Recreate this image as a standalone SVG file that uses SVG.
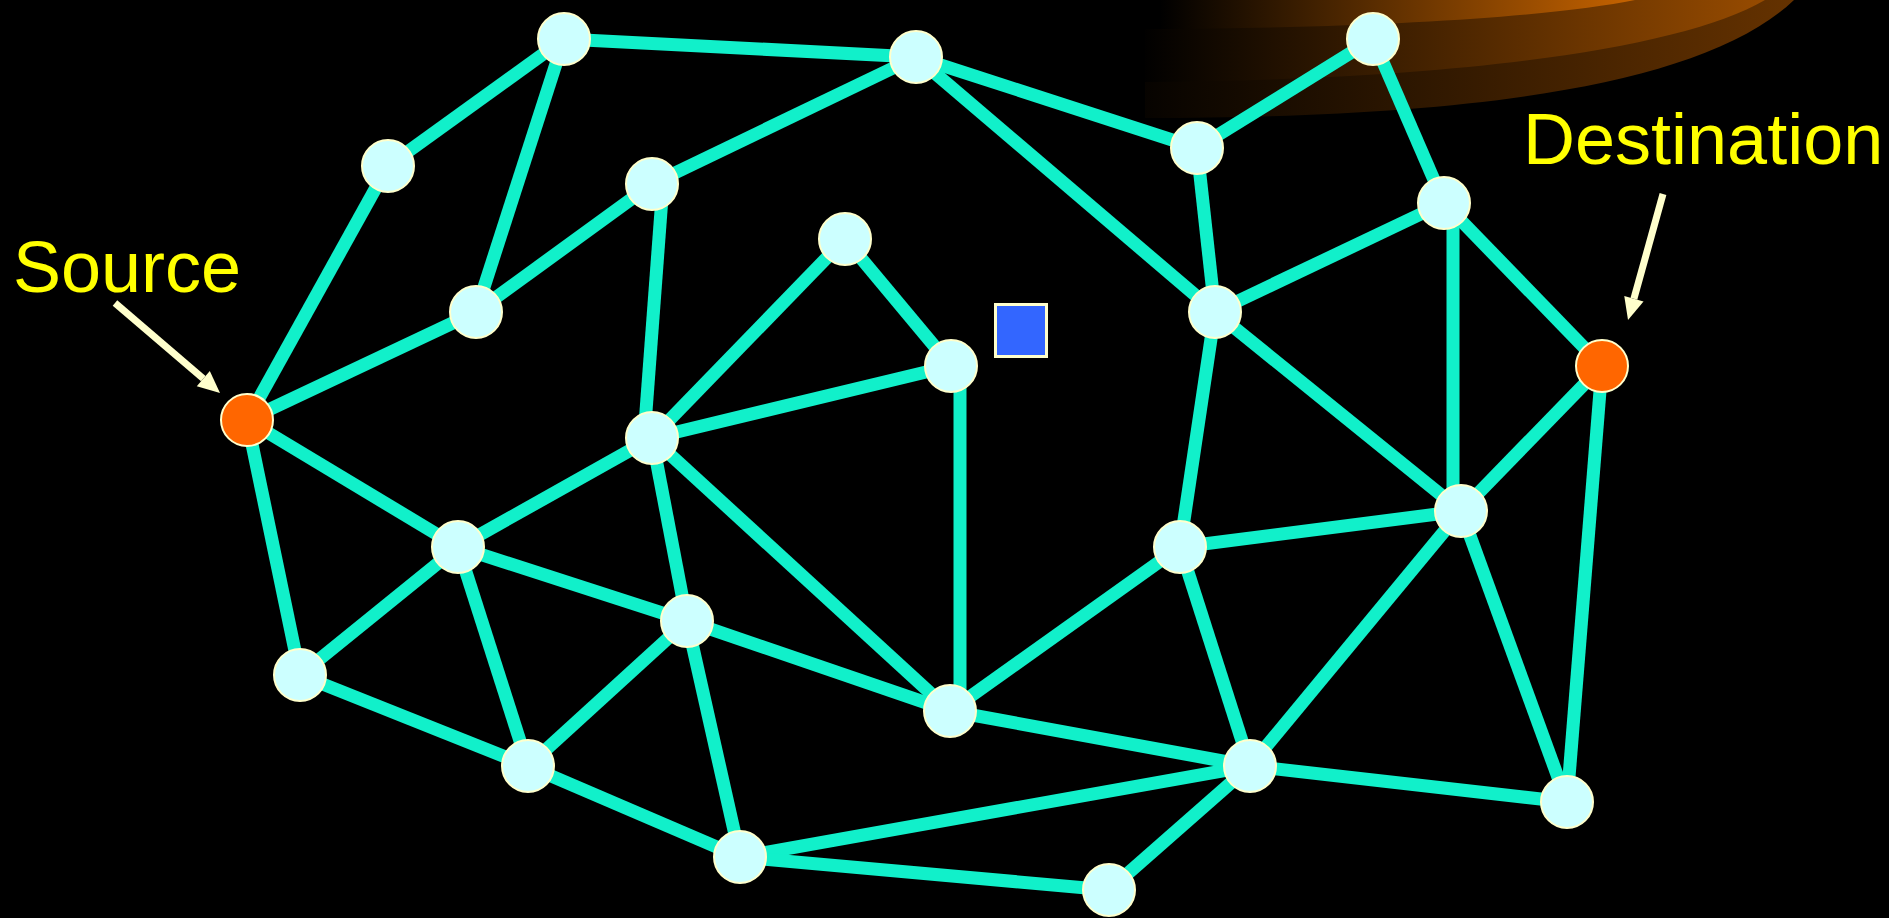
<svg xmlns="http://www.w3.org/2000/svg" width="1889" height="918" viewBox="0 0 1889 918">
<style>
.bg{fill:#000}
.e{stroke:#11F0CA;stroke-width:13;fill:none}
.n{fill:#CCFFFF;stroke:#FFFFCC;stroke-width:2}
.o{fill:#FF6600;stroke:#FFFFCC;stroke-width:2}
.lbl{font-family:"Liberation Sans",Arial,sans-serif;font-size:72px;fill:#FFFF00}
.arr{stroke:#FFFFCC;stroke-width:7;fill:none}
</style>
<defs>
<linearGradient id="gIn" gradientUnits="userSpaceOnUse" x1="1160" y1="0" x2="1640" y2="0">
<stop offset="0" stop-color="#000"/><stop offset="1" stop-color="#C86400"/>
</linearGradient>
<linearGradient id="gMid" gradientUnits="userSpaceOnUse" x1="1140" y1="0" x2="1765" y2="0">
<stop offset="0" stop-color="#000"/><stop offset="1" stop-color="#974B00"/>
</linearGradient>
<linearGradient id="gOut" gradientUnits="userSpaceOnUse" x1="1100" y1="0" x2="1794" y2="0">
<stop offset="0" stop-color="#000"/><stop offset="1" stop-color="#653200"/>
</linearGradient>
<marker id="ah" markerUnits="userSpaceOnUse" orient="auto" refX="0" refY="0" markerWidth="22" markerHeight="20" overflow="visible">
<path d="M0,-10 L22,0 L0,10 Z" fill="#FFFFCC"/>
</marker>
</defs>
<rect class="bg" x="0" y="0" width="1889" height="918"/>
<g id="glow">
<path d="M1145,0 L1145,118 C1450,118 1700,90 1794,0 Z" fill="url(#gOut)"/>
<path d="M1145,0 L1145,82 C1450,80 1680,50 1765,0 Z" fill="url(#gMid)"/>
<path d="M1145,0 L1145,29 C1400,28 1560,15 1635,0 Z" fill="url(#gIn)"/>
</g>
<g id="connectors">
<line class="e" x1="564" y1="39" x2="916" y2="57"/>
<line class="e" x1="564" y1="39" x2="388" y2="166"/>
<line class="e" x1="564" y1="39" x2="476" y2="312"/>
<line class="e" x1="388" y1="166" x2="247" y2="420"/>
<line class="e" x1="476" y1="312" x2="247" y2="420"/>
<line class="e" x1="476" y1="312" x2="652" y2="184"/>
<line class="e" x1="652" y1="184" x2="916" y2="57"/>
<line class="e" x1="663" y1="184" x2="644" y2="438"/>
<line class="e" x1="916" y1="57" x2="1197" y2="148"/>
<line class="e" x1="916" y1="57" x2="1215" y2="312"/>
<line class="e" x1="1197" y1="148" x2="1373" y2="39"/>
<line class="e" x1="1197" y1="148" x2="1215" y2="312"/>
<line class="e" x1="1373" y1="39" x2="1444" y2="203"/>
<line class="e" x1="1444" y1="203" x2="1215" y2="312"/>
<line class="e" x1="1453" y1="203" x2="1453" y2="511"/>
<line class="e" x1="1444" y1="203" x2="1602" y2="366"/>
<line class="e" x1="1215" y1="312" x2="1461" y2="511"/>
<line class="e" x1="1215" y1="312" x2="1180" y2="547"/>
<line class="e" x1="845" y1="239" x2="652" y2="438"/>
<line class="e" x1="845" y1="239" x2="951" y2="366"/>
<line class="e" x1="652" y1="438" x2="951" y2="366"/>
<line class="e" x1="960" y1="366" x2="960" y2="711"/>
<line class="e" x1="652" y1="438" x2="458" y2="547"/>
<line class="e" x1="652" y1="438" x2="687" y2="621"/>
<line class="e" x1="652" y1="438" x2="950" y2="711"/>
<line class="e" x1="247" y1="420" x2="458" y2="547"/>
<line class="e" x1="247" y1="420" x2="300" y2="675"/>
<line class="e" x1="458" y1="547" x2="300" y2="675"/>
<line class="e" x1="458" y1="547" x2="687" y2="621"/>
<line class="e" x1="458" y1="547" x2="528" y2="766"/>
<line class="e" x1="687" y1="621" x2="528" y2="766"/>
<line class="e" x1="687" y1="621" x2="950" y2="711"/>
<line class="e" x1="687" y1="621" x2="740" y2="857"/>
<line class="e" x1="300" y1="675" x2="528" y2="766"/>
<line class="e" x1="528" y1="766" x2="740" y2="857"/>
<line class="e" x1="950" y1="711" x2="1180" y2="547"/>
<line class="e" x1="950" y1="711" x2="1250" y2="766"/>
<line class="e" x1="1180" y1="547" x2="1461" y2="511"/>
<line class="e" x1="1180" y1="547" x2="1250" y2="766"/>
<line class="e" x1="1461" y1="511" x2="1602" y2="366"/>
<line class="e" x1="1461" y1="511" x2="1250" y2="766"/>
<line class="e" x1="1461" y1="511" x2="1567" y2="802"/>
<line class="e" x1="1602" y1="366" x2="1567" y2="802"/>
<line class="e" x1="1250" y1="766" x2="1567" y2="802"/>
<line class="e" x1="1250" y1="766" x2="740" y2="857"/>
<line class="e" x1="1250" y1="766" x2="1109" y2="890"/>
<line class="e" x1="740" y1="857" x2="1109" y2="890"/>
</g>
<g id="n1"><circle class="n" cx="564" cy="39" r="26"/></g>
<g id="n2"><circle class="n" cx="916" cy="57" r="26"/></g>
<g id="n3"><circle class="n" cx="1373" cy="39" r="26"/></g>
<g id="n4"><circle class="n" cx="388" cy="166" r="26"/></g>
<g id="n5"><circle class="n" cx="652" cy="184" r="26"/></g>
<g id="n6"><circle class="n" cx="1197" cy="148" r="26"/></g>
<g id="n7"><circle class="n" cx="1444" cy="203" r="26"/></g>
<g id="n8"><circle class="n" cx="845" cy="239" r="26"/></g>
<g id="n9"><circle class="n" cx="476" cy="312" r="26"/></g>
<g id="n10"><circle class="n" cx="1215" cy="312" r="26"/></g>
<g id="n11"><circle class="n" cx="951" cy="366" r="26"/></g>
<g id="source"><circle class="o" cx="247" cy="420" r="26"/></g>
<g id="destination"><circle class="o" cx="1602" cy="366" r="26"/></g>
<g id="n14"><circle class="n" cx="652" cy="438" r="26"/></g>
<g id="n15"><circle class="n" cx="458" cy="547" r="26"/></g>
<g id="n16"><circle class="n" cx="1461" cy="511" r="26"/></g>
<g id="n17"><circle class="n" cx="1180" cy="547" r="26"/></g>
<g id="n18"><circle class="n" cx="687" cy="621" r="26"/></g>
<g id="n19"><circle class="n" cx="300" cy="675" r="26"/></g>
<g id="n20"><circle class="n" cx="950" cy="711" r="26"/></g>
<g id="n21"><circle class="n" cx="528" cy="766" r="26"/></g>
<g id="n22"><circle class="n" cx="1250" cy="766" r="26"/></g>
<g id="n23"><circle class="n" cx="1567" cy="802" r="26"/></g>
<g id="n24"><circle class="n" cx="740" cy="857" r="26"/></g>
<g id="n25"><circle class="n" cx="1109" cy="890" r="26"/></g>
<g id="square"><rect x="995.5" y="304.5" width="51" height="52" fill="#3366FF" stroke="#FFFFCC" stroke-width="3"/></g>
<g id="source-label">
<text class="lbl" x="13" y="292">Source</text>
<line class="arr" x1="115" y1="303" x2="203.3" y2="378.7" marker-end="url(#ah)"/>
</g>
<g id="destination-label">
<text class="lbl" x="1523" y="164">Destination</text>
<line class="arr" x1="1663" y1="194" x2="1633.9" y2="298.8" marker-end="url(#ah)"/>
</g>
</svg>
